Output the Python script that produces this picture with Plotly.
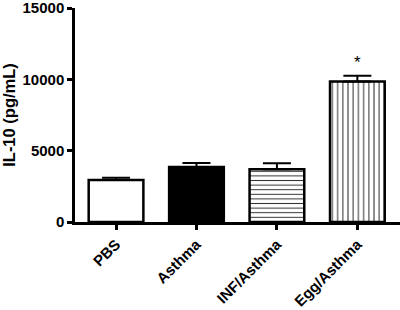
import plotly.graph_objects as go

categories = ["PBS", "Asthma", "INF/Asthma", "Egg/Asthma"]
means = [2950, 3850, 3700, 9850]
errors = [150, 280, 420, 400]
significance = ["", "", "", "*"]
y_ticks = [0, 5000, 10000, 15000]

FONT = "Liberation Sans, Arial, sans-serif"

fig = go.Figure()
styles = [
    dict(color="white", pattern=None),
    dict(color="black", pattern=None),
    dict(color="white", pattern=dict(shape="-", size=4.6, solidity=0.22, fgcolor="#333333", bgcolor="white", fillmode="replace")),
    dict(color="white", pattern=dict(shape="|", size=5.2, solidity=0.2, fgcolor="#333333", bgcolor="white", fillmode="replace")),
]
for i, cat in enumerate(categories):
    m = dict(color=styles[i]["color"], line=dict(color="black", width=2.5))
    if styles[i]["pattern"]:
        m["pattern"] = styles[i]["pattern"]
    fig.add_trace(go.Bar(
        x=[cat], y=[means[i]], width=0.68,
        marker=m,
        error_y=dict(type="data", symmetric=False, array=[errors[i]], arrayminus=[0],
                     color="black", thickness=2, width=14),
        showlegend=False,
    ))

for i, s in enumerate(significance):
    if s:
        fig.add_annotation(x=categories[i], y=means[i] + errors[i], text=s, showarrow=False,
                           yshift=13, font=dict(family=FONT, size=17, color="black"))

fig.update_layout(
    width=400, height=310,
    margin=dict(l=75, r=0, t=8, b=88, autoexpand=False),
    plot_bgcolor="white", paper_bgcolor="white",
    bargap=0.32,
    font=dict(family=FONT, color="black"),
)
fig.update_xaxes(
    range=[-0.51, 3.53], showline=True, linecolor="black", linewidth=2.5,
    ticks="outside", ticklen=5, tickwidth=2.5, tickcolor="black",
    tickangle=-45, tickfont=dict(family=FONT, size=15, weight="bold", color="black"),
    showgrid=False, zeroline=False,
)
fig.update_yaxes(
    range=[0, 15000], tickvals=y_ticks, ticktext=[str(v) for v in y_ticks],
    showline=True, linecolor="black", linewidth=2.5,
    ticks="outside", ticklen=5, tickwidth=2.5, tickcolor="black",
    ticklabeloverflow="allow",
    tickfont=dict(family=FONT, size=15, weight="bold", color="black"),
    title=dict(text="IL-10 (pg/mL)", font=dict(family=FONT, size=16.5, weight="bold", color="black"), standoff=10),
    showgrid=False, zeroline=False,
)
fig.write_html("out.html", config={"displayModeBar": False},
               post_script="document.body.style.margin='0';")
